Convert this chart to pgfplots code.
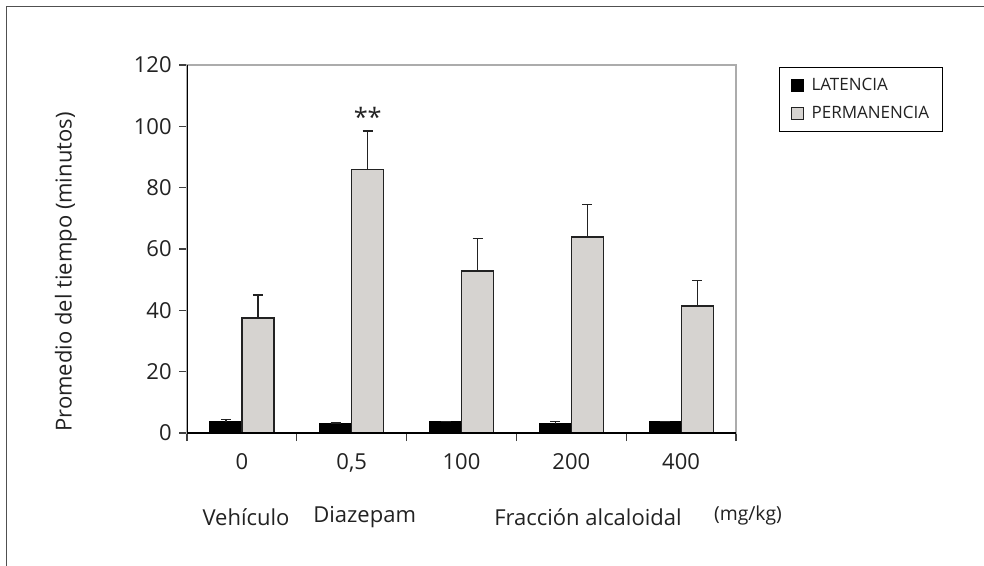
\documentclass[border=0pt]{standalone}
\usepackage{pgfplots}
\pgfplotsset{compat=1.18}
\usepackage{fontspec}
\setmainfont{Open Sans}
\definecolor{barg}{HTML}{D6D3D0}
\definecolor{edge}{HTML}{222222}
\definecolor{frm}{HTML}{505050}
\definecolor{txt}{HTML}{222222}
\newcommand{\bigf}{\fontsize{16.5}{20}\selectfont}
\newcommand{\legf}{\fontsize{12.75}{15}\selectfont}
\begin{document}
\begin{tikzpicture}
\useasboundingbox (0,0) rectangle (738pt,-423.75pt);
\draw[frm, line width=1.1pt] (5pt,-430pt) -- (5pt,-4.9pt) -- (745pt,-4.9pt);
\begin{axis}[
  at={(140.25pt,-324.75pt)}, anchor=south west,
  scale only axis, width=411.75pt, height=276pt,
  xmin=-0.5, xmax=4.5, ymin=0, ymax=120,
  ybar=0pt, bar width=24pt,
  axis line style={draw=gray!65, line width=0.8pt},
  xtick pos=bottom, ytick pos=left,
  xtick={-0.5,0.5,1.5,2.5,3.5,4.5}, xticklabels={},
  extra x ticks={0,1,2,3,4},
  extra x tick labels={0,{0,5},100,200,400},
  extra x tick style={major tick length=0pt, xticklabel style={yshift=-12pt}},
  ytick={0,20,40,60,80,100,120},
  tick align=outside, major tick length=6pt,
  tick style={color=black!75, line width=0.8pt},
  /pgf/number format/assume math mode=true,
  ticklabel style={font=\bigf, text=txt},
  yticklabel style={xshift=-2pt},
  legend style={at={(1.0789,0.9938)}, anchor=north west, draw=black, line width=0.8pt,
    font=\legf, text=txt, inner xsep=8pt, inner ysep=6pt, row sep=6pt, column sep=4pt},
  legend cell align=left,
  legend image code/.code={\draw[#1, line width=0.8pt] (0pt,-4.5pt) rectangle (9pt,4.5pt);},
  error bars/y dir=plus, error bars/y explicit,
  error bars/error bar style={line width=0.9pt, color=edge},
  error bars/error mark options={rotate=90, line width=0.9pt, mark size=3.75pt, color=edge},
]
\addplot[fill=black, draw=black, line width=0.9pt] coordinates {
  (0,3.7) +- (0,0.6)
  (1,3.1) +- (0,0.15)
  (2,3.7) +- (0,0)
  (3,3.1) +- (0,0.6)
  (4,3.7) +- (0,0)
};
\addplot[fill=barg, draw=edge, line width=0.9pt] coordinates {
  (0,37.5) +- (0,7.5)
  (1,85.8) +- (0,12.7)
  (2,52.8) +- (0,10.5)
  (3,63.9) +- (0,10.6)
  (4,41.4) +- (0,8.3)
};
\legend{LATENCIA,PERMANENCIA}
\draw[black, line width=0.9pt] (rel axis cs:0,0) -- (rel axis cs:0,1);
\draw[black, line width=0.9pt] (rel axis cs:0,0) -- (rel axis cs:1,0);
\node[font=\fontsize{19}{22}\selectfont, text=txt] at (axis cs:1.146,103.0) {**};
\end{axis}
\node[font=\bigf, text=txt, rotate=90] at (49.5pt,-204pt) {Promedio del tiempo (minutos)};
\node[font=\bigf, text=txt] at (184.5pt,-387.75pt) {Vehículo};
\node[font=\bigf, text=txt] at (273.5pt,-387.75pt) {Diazepam};
\node[font=\bigf, text=txt] at (441pt,-387.75pt) {Fracción alcaloidal};
\node[font=\fontsize{14.5}{17}\selectfont, text=txt] at (561pt,-386.25pt) {(mg/kg)};
\end{tikzpicture}
\end{document}
